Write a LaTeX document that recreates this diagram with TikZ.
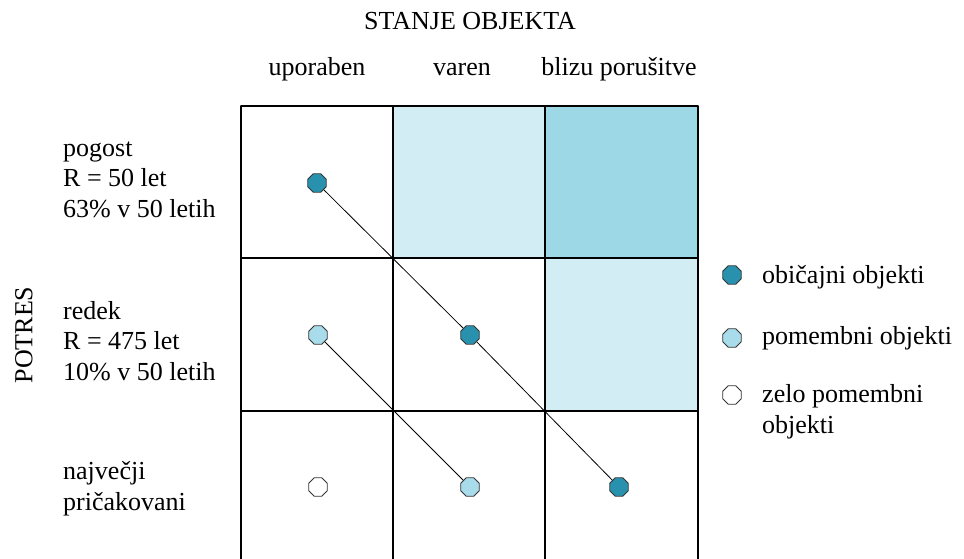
\documentclass[tikz,border=0pt]{standalone}
\usepackage{fontspec}
\setmainfont{Liberation Serif}
\usetikzlibrary{shapes.geometric}
\definecolor{temna}{RGB}{40,146,174}
\definecolor{svetla}{RGB}{168,220,235}
\definecolor{celica}{RGB}{211,237,244}
\definecolor{celicat}{RGB}{157,216,231}
\begin{document}
\begin{tikzpicture}[x=1pt,y=-1pt,line join=round,line cap=round,font=\fontsize{26}{30.5}\selectfont,
	pika/.style={regular polygon,regular polygon sides=8,draw=black!80,line width=0.9pt,inner sep=0pt,minimum size=20pt},
	oznaka/.style={anchor=base west,align=left,inner sep=0pt}]
	\useasboundingbox (0,0) rectangle (964,559);
	% obarvane celice
	\fill[celica] (393,106) rectangle (545,258);
	\fill[celicat] (545,106) rectangle (698,258);
	\fill[celica] (545,258) rectangle (698,411);
	% mreza
	\foreach \x in {241,393,545,698} \draw[line width=1.3pt] (\x,106)--(\x,563);
	\foreach \y in {106,258,411,563} \draw[line width=1.3pt] (241,\y)--(698,\y);
	% glava
	\node[anchor=base,inner sep=0pt] (stanje) at (470,30) {STANJE OBJEKTA};
	\foreach \x/\t/\i in {317/uporaben/1,462/varen/2,619/blizu poru\v{s}itve/3}
		\node[anchor=base,inner sep=0pt] (st\i) at (\x,76) {\t};
	\node[rotate=90,inner sep=0pt] (potres) at (24,335) {POTRES};
	% zadnja vrstica je na base
	\node[oznaka] (p1) at (63,217) {pogost\\R = 50 let\\63\% v 50 letih};
	\node[oznaka] (p2) at (63,380) {redek\\R = 475 let\\10\% v 50 letih};
	\node[oznaka] (p3) at (63,510) {najve\v{c}ji\\pri\v{c}akovani};
	% tocke
	\node[pika,fill=temna] (a1) at (317,183) {};
	\node[pika,fill=temna] (a2) at (470,335) {};
	\node[pika,fill=temna] (a3) at (619,487) {};
	\node[pika,fill=svetla] (b1) at (318,335) {};
	\node[pika,fill=svetla] (b2) at (470,487) {};
	\node[pika,fill=white] (c1) at (318,487) {};
	\draw[line width=0.8pt] (a1)--(a2)--(a3);
	\draw[line width=0.8pt] (b1)--(b2);
	% legenda
	\node[pika,fill=temna] (l1) at (732,275) {};
	\node[pika,fill=svetla] (l2) at (732,338) {};
	\node[pika,fill=white] (l3) at (732,395) {};
	\node[oznaka] (t1) at (762,283) {obi\v{c}ajni objekti};
	\node[oznaka] (t2) at (762,344) {pomembni objekti};
	\node[oznaka] (t3) at (762,433) {zelo pomembni\\objekti};
\end{tikzpicture}
\end{document}
